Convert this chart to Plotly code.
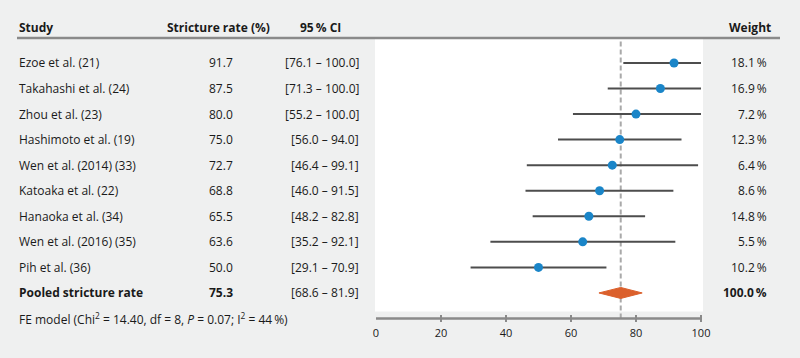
import plotly.graph_objects as go

# ---------------- data ----------------
studies = ["Ezoe et al. (21)", "Takahashi et al. (24)", "Zhou et al. (23)",
           "Hashimoto et al. (19)", "Wen et al. (2014) (33)", "Katoaka et al. (22)",
           "Hanaoka et al. (34)", "Wen et al. (2016) (35)", "Pih et al. (36)"]
rates = [91.7, 87.5, 80.0, 75.0, 72.7, 68.8, 65.5, 63.6, 50.0]
ci_text = ["[76.1 – 100.0]", "[71.3 – 100.0]", "[55.2 – 100.0]", "[56.0 – 94.0]",
           "[46.4 – 99.1]", "[46.0 – 91.5]", "[48.2 – 82.8]", "[35.2 – 92.1]",
           "[29.1 – 70.9]"]
# whisker ends as drawn in the picture
ci_low = [76.1, 71.3, 60.6, 56.0, 46.4, 46.0, 48.2, 35.2, 29.1]
ci_high = [100.0, 100.0, 100.0, 94.0, 99.1, 91.5, 82.8, 92.1, 70.9]
weights = [18.1, 16.9, 7.2, 12.3, 6.4, 8.6, 14.8, 5.5, 10.2]

pooled_label = "Pooled stricture rate"
pooled_rate = 75.3
pooled_low = 68.6
pooled_high = 81.9
pooled_ci_text = "[68.6 – 81.9]"
pooled_weight = 100.0

footnote = "FE model (Chi<sup>2</sup> = 14.40, df = 8, <i>P</i> = 0.07; I<sup>2</sup> = 44\u2009%)"
x_ticks = [0, 20, 40, 60, 80, 100]

# ---------------- layout constants ----------------
W, H = 800, 358
PL, PR = 375, 703          # plot area px
PT, PB = 39, 322.5         # plot area px
AX = 319                   # axis line px
ROW0, ROWSTEP = 63, 25.6   # px of first row, row spacing
BG = "#eff0f0"
TXT = "#1a1a1a"
FONT = "Open Sans"
FS = 12

def px_x(px):
    return (px - PL) / (PR - PL)

def px_y(py):
    return (PB - py) / (PB - PT)

y_top = (PT - ROW0) / ROWSTEP
y_bot = (PB - ROW0) / ROWSTEP
y_axis = (AX - ROW0) / ROWSTEP
n = len(studies)
pooled_row = n

fig = go.Figure()

# CI whiskers
lx, ly = [], []
for i in range(n):
    lx += [ci_low[i], ci_high[i], None]
    ly += [i, i, None]
fig.add_trace(go.Scatter(x=lx, y=ly, mode="lines",
                         line=dict(color="#4d4d4d", width=2),
                         hoverinfo="skip", showlegend=False))
# point estimates
fig.add_trace(go.Scatter(x=rates, y=list(range(n)), mode="markers",
                         marker=dict(color="#1a85c8", size=9),
                         showlegend=False))
# pooled diamond
dh = 5.5 / ROWSTEP
fig.add_trace(go.Scatter(
    x=[pooled_low, pooled_rate, pooled_high, pooled_rate, pooled_low],
    y=[pooled_row, pooled_row - dh, pooled_row, pooled_row + dh, pooled_row],
    mode="lines", fill="toself", fillcolor="#db602c",
    line=dict(color="#db602c", width=1), showlegend=False))
# axis line 0..100
fig.add_trace(go.Scatter(x=[x_ticks[0], x_ticks[-1]], y=[y_axis, y_axis], mode="lines",
                         line=dict(color="#8a8a8a", width=2.5), cliponaxis=False,
                         hoverinfo="skip", showlegend=False))

shapes = []
# white panel
shapes.append(dict(type="rect", xref="paper", yref="paper",
                   x0=0, x1=1, y0=px_y(312), y1=1,
                   fillcolor="white", line=dict(width=0), layer="below"))
# pooled dashed line
shapes.append(dict(type="line", xref="x", yref="paper",
                   x0=pooled_rate, x1=pooled_rate, y0=px_y(AX), y1=px_y(40),
                   line=dict(color="#a9a9a9", width=2, dash="5px,3px"), layer="below"))
# header rule
shapes.append(dict(type="line", xref="paper", yref="paper",
                   x0=px_x(17), x1=px_x(780), y0=px_y(38), y1=px_y(38),
                   line=dict(color="#8a8a8a", width=2.5)))

ann = []
def add_text(txt, px, row=None, py=None, anchor="left", bold=False, size=FS):
    if bold:
        txt = "<b>" + txt + "</b>"
    d = dict(text=txt, xref="paper", x=px_x(px), xanchor=anchor,
             yanchor="middle", showarrow=False,
             font=dict(family=FONT, size=size, color=TXT))
    if row is not None:
        d.update(yref="y", y=row)
    else:
        d.update(yref="paper", y=px_y(py))
    ann.append(d)

# headers
add_text("Study", 17, py=27, bold=True)
add_text("Stricture rate (%)", 218, py=27, anchor="center", bold=True)
add_text("95\u2009% CI", 320, py=27, anchor="center", bold=True)
add_text("Weight", 773, py=27, anchor="right", bold=True)

for i in range(n):
    add_text(studies[i], 17, row=i)
    add_text(f"{rates[i]:.1f}", 235, row=i, anchor="right")
    add_text(ci_text[i], 361, row=i, anchor="right")
    add_text(f"{weights[i]:.1f}\u2009%", 769, row=i, anchor="right")

add_text(pooled_label, 17, row=pooled_row, bold=True)
add_text(f"{pooled_rate:.1f}", 235, row=pooled_row, anchor="right", bold=True)
add_text(pooled_ci_text, 361, row=pooled_row, anchor="right")
add_text(f"{pooled_weight:.1f}\u2009%", 769, row=pooled_row, anchor="right", bold=True)

add_text(footnote, 17, row=y_axis)

xr = [(PL - 376) / 3.25, (PR - 376) / 3.25]
fig.update_layout(
    width=W, height=H,
    margin=dict(l=PL, r=W - PR, t=PT, b=H - PB, pad=0),
    paper_bgcolor=BG, plot_bgcolor=BG,
    shapes=shapes, annotations=ann,
    xaxis=dict(range=xr, tickvals=x_ticks,
               showgrid=False, zeroline=False, showline=False,
               ticks="inside", ticklen=7, tickwidth=2, tickcolor="#8a8a8a",
               ticklabelstandoff=3,
               tickfont=dict(family=FONT, size=11, color=TXT), fixedrange=True),
    yaxis=dict(range=[y_bot, y_top], visible=False, fixedrange=True),
)

fig.write_html("out.html", config={"displayModeBar": False},
               post_script="document.body.style.margin='0';document.body.style.padding='0';")
